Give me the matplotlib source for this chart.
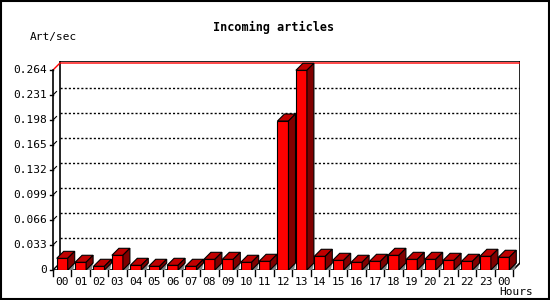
import matplotlib
matplotlib.use("Agg")
import matplotlib.pyplot as plt
from matplotlib.patches import Polygon, Rectangle

hours = ["00", "01", "02", "03", "04", "05", "06", "07", "08", "09", "10", "11",
         "12", "13", "14", "15", "16", "17", "18", "19", "20", "21", "22", "23", "00"]
art_sec = [0.0154, 0.0102, 0.0049, 0.0194, 0.0062, 0.0049, 0.0062, 0.0049,
           0.0141, 0.0141, 0.0102, 0.0115, 0.1967, 0.2636, 0.0181, 0.0128,
           0.0102, 0.0115, 0.0194, 0.0141, 0.0141, 0.0128, 0.0115, 0.0181, 0.0168]
yticks = [0, 0.033, 0.066, 0.099, 0.132, 0.165, 0.198, 0.231, 0.264]
ytick_labels = ["0", "0.033", "0.066", "0.099", "0.132", "0.165", "0.198", "0.231", "0.264"]

W, H = 550, 300
fig = plt.figure(figsize=(W / 100, H / 100), dpi=100)
fig.patch.set_facecolor("white")
fig.add_artist(Rectangle((0.001, 0.002), 0.997, 0.995, transform=fig.transFigure,
                         fill=False, ec="black", lw=1.5))

# axes from front-left (53,270) to back-right (520,61) in pixels
ax = fig.add_axes([53 / W, 30 / H, 467 / W, 209 / H])
ax.set_axis_off()
n = len(hours)
ymax = yticks[-1]
px_x = 18.4             # px per slot
px_y = 25 / 0.033       # px per unit
dx = 7 / px_x
dy = 7 / px_y
ax.set_xlim(-0.5, -0.5 + 467 / px_x)
ax.set_ylim(0, 209 / px_y)

x0, x1 = -0.5, n - 0.5
top = ymax + dy + 2 / px_y
mono = "DejaVu Sans Mono"

# back wall
ax.add_patch(Polygon([(x0 + dx, dy), (x0 + dx, top), (x1 + dx, top), (x1 + dx, dy)],
                     closed=False, fill=False, ec="black", lw=1.2, zorder=1))
for v in yticks[1:-1]:
    ax.plot([x0 + dx, x1 + dx], [v + dy, v + dy], color="black", lw=1,
            ls=(0, (1.5, 1.5)), zorder=1)
    ax.plot([x0, x0 + dx * 0.5], [v, v + dy * 0.5], color="black", lw=0.8, zorder=2)
ax.plot([x0, x0 + dx, x1 + dx], [ymax, ymax + dy, ymax + dy], color="red", lw=1, zorder=2)

# floor edge and front axis
ax.plot([x0, x1, x1 + dx], [0, 0, dy], color="black", lw=1.2, zorder=2)
ax.plot([x0, x0 + dx], [0, dy], color="black", lw=1, zorder=2)
ax.plot([x0, x0], [0, ymax], color="black", lw=1.2, zorder=6, clip_on=False)
for v, lab in zip(yticks, ytick_labels):
    ax.plot([x0 - 0.15, x0], [v, v], color="black", lw=1, clip_on=False, zorder=6)
    ax.text(x0 - 0.3, v, lab, ha="right", va="center", family=mono, fontsize=8)
for i in range(n + 1):
    ax.plot([i - 0.5, i - 0.5], [0, -6 / px_y], color="black", lw=1, clip_on=False)
for i, lab in enumerate(hours):
    ax.text(i, -7 / px_y, lab, ha="center", va="top", family=mono, fontsize=8)

# 3D bars
bw = 11 / px_x
for i, v in enumerate(art_sec):
    xl, xr = i - bw / 2, i + bw / 2
    z = 3 + i * 0.001
    ax.add_patch(Polygon([(xl, 0), (xr + 0.3, 0), (xr + dx, dy), (xl + dx, dy)],
                         fc="#808080", ec="none", zorder=z))
    ax.bar(i, v, width=bw, color="#ff0000", edgecolor="black", lw=0.8, zorder=z + 0.0005)
    ax.add_patch(Polygon([(xl, v), (xl + dx, v + dy), (xr + dx, v + dy), (xr, v)],
                         fc="#c00000", ec="black", lw=0.8, zorder=z + 0.0005))
    ax.add_patch(Polygon([(xr, 0), (xr, v), (xr + dx, v + dy), (xr + dx, dy)],
                         fc="#800000", ec="black", lw=0.8, zorder=z + 0.0005))

fig.text(274 / W, 1 - 27 / H, "Incoming articles", ha="center", va="center",
         family=mono, fontsize=8.5, weight="bold")
fig.text(30 / W, 1 - 37 / H, "Art/sec", ha="left", va="center", family=mono, fontsize=8)
fig.text(533 / W, 1 - 292 / H, "Hours", ha="right", va="center", family=mono, fontsize=8)

fig.savefig("out.png", dpi=100)
